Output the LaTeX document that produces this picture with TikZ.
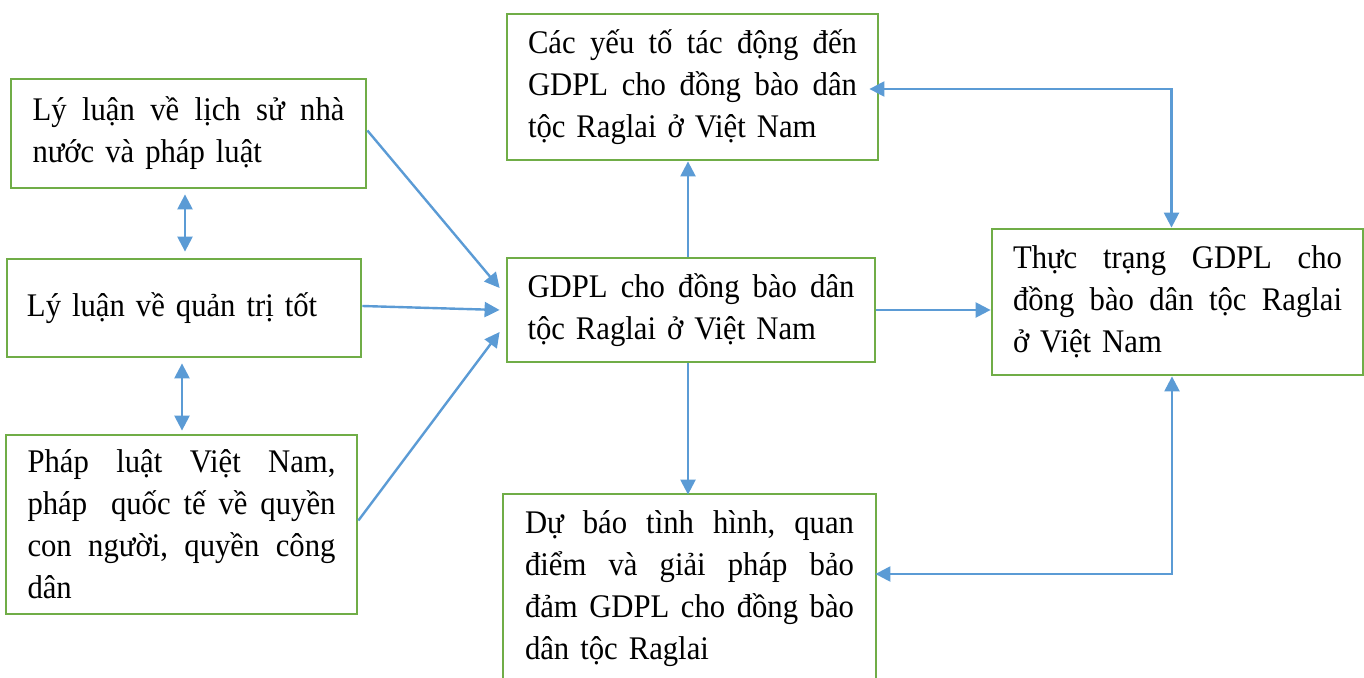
\documentclass[tikz,border=0pt]{standalone}
\usepackage{fontspec}
\setmainfont{Liberation Serif}[FakeStretch=0.93]
\usetikzlibrary{arrows.meta,calc}
\definecolor{boxgreen}{HTML}{70AD47}
\definecolor{arrblue}{HTML}{5B9BD5}
\newcommand{\jl}[2]{\leavevmode\hbox to #1{#2}}
\newcommand{\gp}{\ \hfill}
\begin{document}
\begin{tikzpicture}[x=1pt,y=-1pt,
  box/.style={draw=boxgreen, line width=2.8pt, rectangle, inner sep=0pt, align=left, font=\fontsize{33}{42}\selectfont},
  arr/.style={draw=arrblue, line width=2.4pt, -{Triangle[length=15pt,width=15pt]}},
  dbl/.style={draw=arrblue, line width=2.4pt, {Triangle[length=15pt,width=15pt]}-{Triangle[length=15pt,width=15pt]}}]
\useasboundingbox (0,0) rectangle (1364,677);

\node[box, minimum width=355pt, minimum height=109pt, text width=312pt] (A) at (188.5,133.5)
  {\jl{312pt}{Lý\gp luận\gp về\gp lịch\gp sử\gp nhà}\\nước và pháp luật};
\node[box, minimum width=354pt, minimum height=98pt, text width=314pt] (B) at (184,308)
  {Lý luận về quản trị tốt};
\node[box, minimum width=351pt, minimum height=179pt, text width=308pt] (C) at (181.5,524.5)
  {\jl{308pt}{Pháp\gp luật\gp Việt\gp Nam,}\\\jl{308pt}{pháp\ \gp quốc\gp tế\gp về\gp quyền}\\\jl{308pt}{con\gp người,\gp quyền\gp công}\\dân};
\node[box, minimum width=371pt, minimum height=146pt, text width=329pt] (D) at (692.5,87)
  {\jl{329pt}{Các\gp yếu\gp tố\gp tác\gp động\gp đến}\\\jl{329pt}{GDPL\gp cho\gp đồng\gp bào\gp dân}\\tộc Raglai ở Việt Nam};
\node[box, minimum width=368pt, minimum height=104pt, text width=327pt] (E) at (691,310)
  {\jl{327pt}{GDPL\gp cho\gp đồng\gp bào\gp dân}\\tộc Raglai ở Việt Nam};
\node[box, minimum width=373pt, minimum height=190pt, text width=329pt] (F) at (689.5,589)
  {\jl{329pt}{Dự\gp báo\gp tình\gp hình,\gp quan}\\\jl{329pt}{điểm\gp và\gp giải\gp pháp\gp bảo}\\\jl{329pt}{đảm\gp GDPL\gp cho\gp đồng\gp bào}\\dân tộc Raglai};
\node[box, minimum width=371pt, minimum height=146pt, text width=329pt] (G) at (1177.5,302)
  {\jl{329pt}{Thực\gp trạng\gp GDPL\gp cho}\\\jl{329pt}{đồng\gp bào\gp dân\gp tộc\gp Raglai}\\ở Việt Nam};

\draw[arr] ($(A.east)+(0,-3)$) -- ($(E.west)+(-6,-22)$);
\draw[arr] ($(B.east)+(0,-2)$) -- ($(E.west)+(-6,0)$);
\draw[arr] ($(C.east)+(0,-4)$) -- ($(E.west)+(-6,22)$);
\draw[dbl] ($(A.south)+(-3.5,5)$) -- ($(B.north)+(1,-6)$);
\draw[dbl] ($(B.south)+(-2,5)$) -- ($(C.north)+(0.5,-3)$);
\draw[arr] ($(E.north)+(-3,0)$) -- ($(D.south)+(-4.5,0)$);
\draw[arr] ($(E.south)+(-3,0)$) -- ($(F.north)+(-1.5,2)$);
\draw[arr] (E.east) -- (E.east -| G.west);
\draw[dbl] ($(D.east)+(-10,2)$) -| ($(G.north)+(-6,0)$);
\draw[dbl] ($(F.east)+(-2,-15)$) -| ($(G.south)+(-5.5,0)$);
\end{tikzpicture}
\end{document}
